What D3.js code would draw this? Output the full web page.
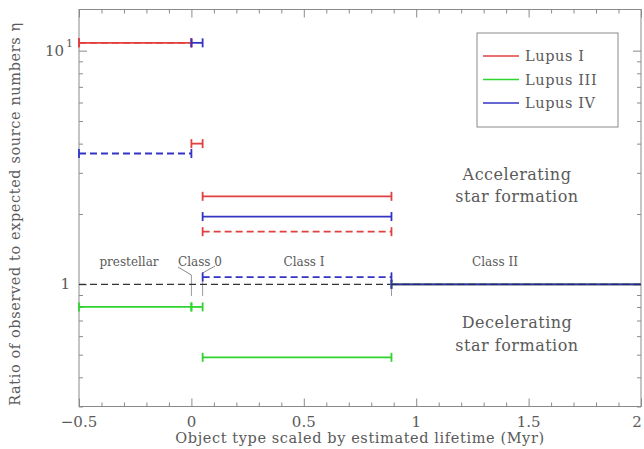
<!DOCTYPE html>
<html><head><meta charset="utf-8">
<script src="https://cdn.jsdelivr.net/npm/d3@7"></script>
<style>
body{margin:0;background:#fff;}
svg text{font-family:"DejaVu Serif","Liberation Serif",serif;fill:#5a5a5a;}
</style></head>
<body><svg id="c" width="644" height="449"></svg>
<script>
// ---- data ----
const classEdges = [-0.5, 0, 0.05, 0.89, 2];
const classNames = ["prestellar", "Class 0", "Class I", "Class II"];
const clouds = ["Lupus I", "Lupus III", "Lupus IV"];
const cloudColors = ["#e0403f", "#2fd42f", "#3434c4"];
// ratio per class interval (null = not drawn)
const lupusISolid   = [10.8, 4.0, 2.38, 1];
const lupusIDashed  = [10.8, null, 1.68, null];
const lupusIIISolid = [0.80, 0.80, 0.487, 1];
const lupusIVSolid  = [null, 10.8, 1.95, 1];
const lupusIVDashed = [3.63, null, 1.074, null];
const referenceLevel = 1;
const xMajorTicks = [-0.5, 0, 0.5, 1, 1.5, 2];
const xTickLabels = ["\u22120.5", "0", "0.5", "1", "1.5", "2"];
const yMajorTicks = [1, 10];
const yMinorTicks = [0.3,0.4,0.5,0.6,0.7,0.8,0.9,2,3,4,5,6,7,8,9];

const series = [
  {vals: lupusISolid, cloud: 0, dashed: false},
  {vals: lupusIDashed, cloud: 0, dashed: true},
  {vals: lupusIIISolid, cloud: 1, dashed: false},
  {vals: lupusIVSolid, cloud: 2, dashed: false},
  {vals: lupusIVDashed, cloud: 2, dashed: true}
];

const svg = d3.select("#c");
const L = 79, R = 641, T = 9.5, B = 406.5;
const x = d3.scaleLinear().domain([-0.5, 2]).range([L, R]);
const y = d3.scaleLog().domain([0.3, 15]).range([B, T]);

// frame
svg.append("rect").attr("x", L).attr("y", T).attr("width", R - L).attr("height", B - T)
  .attr("fill", "none").attr("stroke", "#8a8a8a").attr("stroke-width", 1);

const xMinor = d3.range(-5, 21).map(d => d / 10).filter(d => !xMajorTicks.some(m => Math.abs(m - d) < 1e-9));
function tickAxis(gen, vals, size, tx, ty) {
  const g = svg.append("g").attr("transform", `translate(${tx},${ty})`)
    .call(gen.tickValues(vals).tickSize(size).tickFormat(""));
  g.select(".domain").remove();
  g.selectAll("line").attr("stroke", "#8a8a8a");
}
tickAxis(d3.axisBottom(x), xMajorTicks, -8, 0, B);
tickAxis(d3.axisBottom(x), xMinor, -4, 0, B);
tickAxis(d3.axisTop(x), xMajorTicks, -8, 0, T);
tickAxis(d3.axisTop(x), xMinor, -4, 0, T);
tickAxis(d3.axisLeft(y), yMajorTicks, -8, L, 0);
tickAxis(d3.axisLeft(y), yMinorTicks, -4, L, 0);
tickAxis(d3.axisRight(y), yMajorTicks, -8, R, 0);
tickAxis(d3.axisRight(y), yMinorTicks, -4, R, 0);

// x tick labels
svg.selectAll(".xl").data(xMajorTicks).enter().append("text")
  .attr("x", d => Math.min(x(d), 637)).attr("y", 427).attr("text-anchor", "middle")
  .attr("font-size", 15).text((d, i) => xTickLabels[i]);
// y tick labels
svg.append("text").attr("x", 64).attr("y", 56).attr("text-anchor", "end").attr("font-size", 15).text("10");
svg.append("text").attr("x", 66).attr("y", 47).attr("font-size", 11).text("1");
svg.append("text").attr("x", 70).attr("y", y(1) + 5).attr("text-anchor", "end").attr("font-size", 15).text("1");

// axis titles
svg.append("text").attr("x", 360).attr("y", 443).attr("text-anchor", "middle")
  .attr("font-size", 14.5).attr("letter-spacing", 0.6).text("Object type scaled by estimated lifetime (Myr)");
svg.append("text").attr("transform", "translate(20,214) rotate(-90)").attr("text-anchor", "middle")
  .attr("font-size", 14.5).attr("letter-spacing", 0.6).text("Ratio of observed to expected source numbers \u03b7");

// class boundary markers
const markerEdges = [classEdges[1], classEdges[2], classEdges[3]];
svg.selectAll(".mk").data(markerEdges).enter().append("line")
  .attr("x1", d => x(d)).attr("x2", d => x(d))
  .attr("y1", (d, i) => i === 0 ? 275 : 272).attr("y2", 296)
  .attr("stroke", "#9a9a9a").attr("stroke-width", 1);
// leader lines for Class 0
svg.append("path").attr("d", `M178,267 L${x(0)},275`).attr("stroke", "#8a8a8a").attr("fill", "none");
svg.append("path").attr("d", `M215,266 L${x(0.05)},273`).attr("stroke", "#8a8a8a").attr("fill", "none");

// class labels
const classLabelX = [129, 200, 304, 495];
svg.selectAll(".cl").data(classNames).enter().append("text")
  .attr("x", (d, i) => classLabelX[i]).attr("y", 266).attr("text-anchor", "middle")
  .attr("font-size", 12).attr("fill", "#444").text(d => d);

// region annotations
[["Accelerating", 180], ["star formation", 202], ["Decelerating", 328], ["star formation", 351]].forEach(([t, yy]) => {
  svg.append("text").attr("x", 517).attr("y", yy).attr("text-anchor", "middle")
    .attr("font-size", 16).attr("letter-spacing", 0.5).text(t);
});

function drawSegments(s) {
  const col = cloudColors[s.cloud];
  s.vals.forEach((v, i) => {
    if (v == null) return;
    const x0 = x(classEdges[i]), x1 = x(classEdges[i + 1]), yy = y(v);
    svg.append("line").attr("x1", x0).attr("x2", x1).attr("y1", yy).attr("y2", yy)
      .attr("stroke", col).attr("stroke-width", 1.8)
      .attr("stroke-dasharray", s.dashed ? "7,4" : null);
    [classEdges[i], classEdges[i + 1]].forEach(e => {
      if (e >= 2) return;
      svg.append("line").attr("x1", x(e)).attr("x2", x(e)).attr("y1", yy - 4.5).attr("y2", yy + 4.5)
        .attr("stroke", col).attr("stroke-width", 1.8);
    });
  });
}
svg.append("line").attr("x1", x(-0.5)).attr("x2", x(classEdges[3])).attr("y1", y(referenceLevel)).attr("y2", y(referenceLevel))
  .attr("stroke", "#333").attr("stroke-width", 1.3).attr("stroke-dasharray", "7,4");
series.forEach(drawSegments);
svg.append("line").attr("x1", x(classEdges[3])).attr("x2", x(2)).attr("y1", y(referenceLevel)).attr("y2", y(referenceLevel))
  .attr("stroke", "#1a1a50").attr("stroke-width", 1.3).attr("stroke-dasharray", "7,4").attr("opacity", 0.6);

// legend
const lg = svg.append("g");
lg.append("rect").attr("x", 477).attr("y", 33).attr("width", 141).attr("height", 94)
  .attr("fill", "#fff").attr("stroke", "#8a8a8a");
clouds.forEach((c, i) => {
  const yy = 56 + i * 23.5;
  lg.append("line").attr("x1", 483).attr("x2", 519).attr("y1", yy).attr("y2", yy)
    .attr("stroke", cloudColors[i]).attr("stroke-width", 1.5);
  lg.append("text").attr("x", 525).attr("y", yy + 5).attr("font-size", 14.5).attr("letter-spacing", 0.6).text(c);
});
</script></body></html>
